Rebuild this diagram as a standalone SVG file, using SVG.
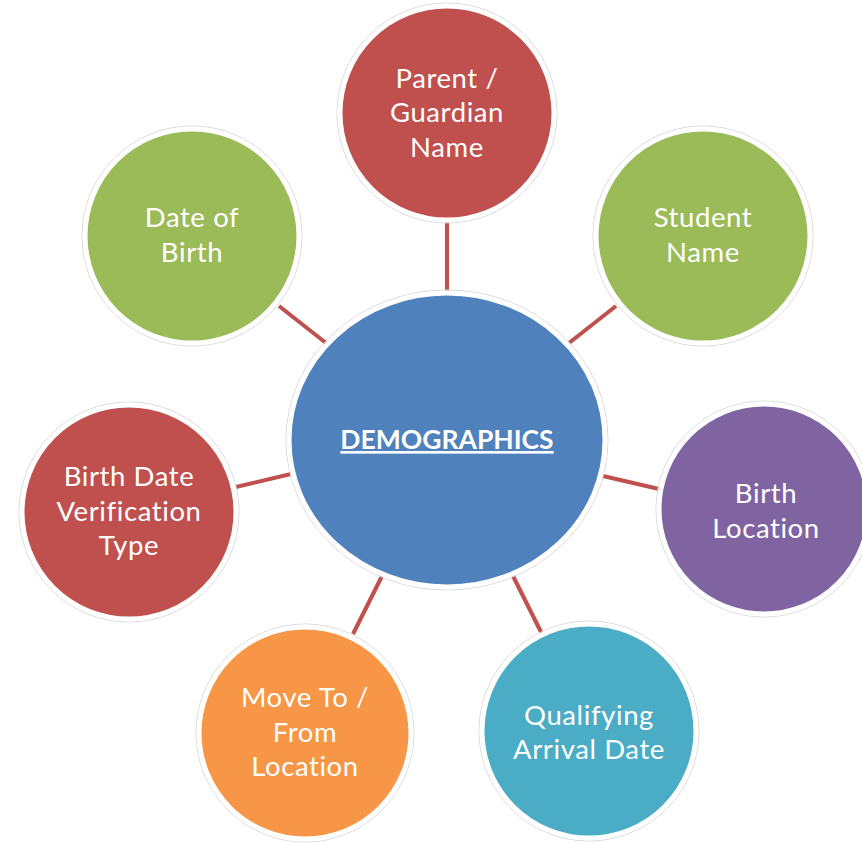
<svg xmlns="http://www.w3.org/2000/svg" width="862" height="843" viewBox="0 0 862 843">
<style>
.ring{stroke:#ffffff;stroke-width:5}
.halo{fill:none;stroke:#d9d9d9;stroke-width:1}
.t{font-family:Lato,"Open Sans","Liberation Sans",sans-serif;font-size:27.5px;letter-spacing:0.6px;fill:#ffffff;text-anchor:middle}
.h{font-family:Lato,"Open Sans","Liberation Sans",sans-serif;font-size:26.5px;font-weight:bold;text-decoration:underline;fill:#ffffff;text-anchor:middle}
.c{stroke:#C0504D;stroke-width:4;stroke-linecap:butt}
</style>
<rect width="862" height="843" fill="#ffffff"/>
<g id="connectors">
<line class="c" x1="447" y1="222" x2="447" y2="294"/>
<line class="c" x1="569" y1="343" x2="616" y2="306"/>
<line class="c" x1="279" y1="306" x2="326" y2="343"/>
<line class="c" x1="236" y1="487" x2="291" y2="474"/>
<line class="c" x1="603" y1="476" x2="659" y2="489"/>
<line class="c" x1="382" y1="576" x2="353" y2="634"/>
<line class="c" x1="513" y1="576" x2="542" y2="634"/>
</g>
<g id="center">
<ellipse class="halo" cx="447" cy="440" rx="161" ry="150"/>
<ellipse class="ring" cx="447" cy="440" rx="158" ry="147" fill="#4F81BD"/>
<text class="h" x="447" y="449">DEMOGRAPHICS</text>
</g>
<g id="parent">
<circle class="halo" cx="447" cy="113" r="110"/>
<circle class="ring" cx="447" cy="113" r="107" fill="#C0504D"/>
<text class="t" x="447" y="88">Parent /</text>
<text class="t" x="447" y="122">Guardian</text>
<text class="t" x="447" y="157">Name</text>
</g>
<g id="student">
<circle class="halo" cx="703" cy="236" r="110"/>
<circle class="ring" cx="703" cy="236" r="107" fill="#9BBB59"/>
<text class="t" x="703" y="227">Student</text>
<text class="t" x="703" y="262">Name</text>
</g>
<g id="dob">
<circle class="halo" cx="192" cy="236" r="110"/>
<circle class="ring" cx="192" cy="236" r="107" fill="#9BBB59"/>
<text class="t" x="192" y="227">Date of</text>
<text class="t" x="192" y="262">Birth</text>
</g>
<g id="birthloc">
<circle class="halo" cx="764" cy="509" r="108"/>
<circle class="ring" cx="764" cy="509" r="105" fill="#8064A2"/>
<text class="t" x="766" y="503">Birth</text>
<text class="t" x="766" y="538">Location</text>
</g>
<g id="verif">
<circle class="halo" cx="129" cy="512" r="110"/>
<circle class="ring" cx="129" cy="512" r="107" fill="#C0504D"/>
<text class="t" x="129" y="486">Birth Date</text>
<text class="t" x="129" y="521">Verification</text>
<text class="t" x="129" y="555">Type</text>
</g>
<g id="move">
<circle class="halo" cx="305" cy="733" r="109"/>
<circle class="ring" cx="305" cy="733" r="106" fill="#F79646"/>
<text class="t" x="305" y="707">Move To /</text>
<text class="t" x="305" y="742">From</text>
<text class="t" x="305" y="776">Location</text>
</g>
<g id="arrival">
<circle class="halo" cx="589" cy="731" r="110"/>
<circle class="ring" cx="589" cy="731" r="107" fill="#4BACC6"/>
<text class="t" x="589" y="725">Qualifying</text>
<text class="t" x="589" y="759">Arrival Date</text>
</g>
</svg>
